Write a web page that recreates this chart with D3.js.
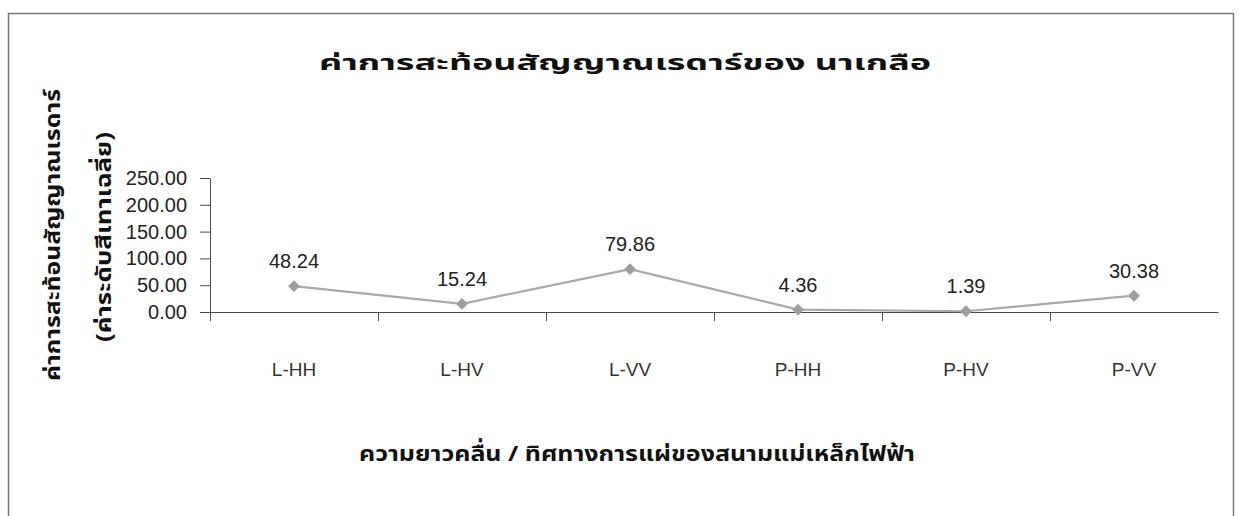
<!doctype html>
<html lang="th">
<head>
  <meta charset="utf-8">
  <title>ค่าการสะท้อนสัญญาณเรดาร์ของ นาเกลือ</title>
  <script src="https://d3js.org/d3.v7.min.js"></script>
  <style type="text/css">
    body { margin: 0; background: #fff; }
    .axis path, .axis line { stroke: #4a4a4a; stroke-width: 1; }
    .axis text { fill: #222; }
    .ytick text { font-family: 'Liberation Sans', Arial, sans-serif; font-size: 20px; }
    .xtick text { font-family: 'Liberation Sans Narrow', 'Arial Narrow', 'Liberation Sans', sans-serif; font-size: 19px; fill: #333; }
    .thai { font-family: 'Noto Sans Thai', 'Loma', 'Garuda', 'Tlwg Typo', sans-serif; font-weight: bold; fill: #111; }
  </style>
</head>
<body>
  <div id="chart"></div>
  <script type="text/javascript">

    // values
    var categories = ['L-HH', 'L-HV', 'L-VV', 'P-HH', 'P-HV', 'P-VV'];
    var values = [48.24, 15.24, 79.86, 4.36, 1.39, 30.38];
    var yTicks = [0, 50, 100, 150, 200, 250];

    var chartTitle = 'ค่าการสะท้อนสัญญาณเรดาร์ของ นาเกลือ';
    var xTitle = 'ความยาวคลื่น / ทิศทางการแผ่ของสนามแม่เหล็กไฟฟ้า';
    var yTitle1 = 'ค่าการสะท้อนสัญญาณเรดาร์';
    var yTitle2 = '(ค่าระดับสีเทาเฉลี่ย)';

    var width = 1240, height = 516;
    var plotLeft = 210, plotRight = 1218, plotTop = 178, plotBottom = 312;

    var svg = d3.select('#chart')
      .append('svg')
      .attr('width', width)
      .attr('height', height);

    // outer frame of the chart area
    svg.append('rect')
      .attr('x', 8.5).attr('y', 13.5)
      .attr('width', 1225).attr('height', 520)
      .attr('fill', '#fff')
      .attr('stroke', '#777')
      .attr('stroke-width', 1.5);

    var x = d3.scaleBand()
      .domain(categories)
      .range([plotLeft, plotRight]);

    var y = d3.scaleLinear()
      .domain([0, 250])
      .range([plotBottom, plotTop]);

    // y axis
    svg.append('g')
      .attr('class', 'axis ytick')
      .attr('transform', 'translate(' + plotLeft + ',0)')
      .call(d3.axisLeft(y)
        .tickValues(yTicks)
        .tickFormat(d3.format('.2f'))
        .tickSizeInner(10)
        .tickSizeOuter(0)
        .tickPadding(13));

    // x axis, labels at the category centres
    svg.append('g')
      .attr('class', 'axis xtick')
      .attr('transform', 'translate(0,' + plotBottom + ')')
      .call(d3.axisBottom(x)
        .tickSize(0)
        .tickPadding(51));

    // x tick marks sit between the categories
    svg.append('g')
      .selectAll('line')
      .data(categories)
      .join('line')
      .attr('x1', function(d) { return x(d) + 0.5; })
      .attr('x2', function(d) { return x(d) + 0.5; })
      .attr('y1', plotBottom)
      .attr('y2', plotBottom + 9)
      .attr('stroke', '#4a4a4a');

    var points = categories.map(function(c, i) { return {cat: c, value: values[i]}; });

    var line = d3.line()
      .x(function(d) { return x(d.cat) + x.bandwidth() / 2; })
      .y(function(d) { return y(d.value); });

    svg.append('path')
      .datum(points)
      .attr('d', line)
      .attr('fill', 'none')
      .attr('stroke', '#a8a8a8')
      .attr('stroke-width', 2.2);

    svg.append('g')
      .selectAll('path')
      .data(points)
      .join('path')
      .attr('d', d3.symbol(d3.symbolSquare, 70))
      .attr('transform', function(d) {
        return 'translate(' + (x(d.cat) + x.bandwidth() / 2) + ',' + y(d.value) + ') rotate(45)';
      })
      .attr('fill', '#9d9d9d');

    svg.append('g')
      .selectAll('text')
      .data(points)
      .join('text')
      .attr('x', function(d) { return x(d.cat) + x.bandwidth() / 2; })
      .attr('y', function(d) { return y(d.value) - 18; })
      .attr('text-anchor', 'middle')
      .style('font-family', "'Liberation Sans', Arial, sans-serif")
      .style('font-size', '20px')
      .style('fill', '#222')
      .text(function(d) { return d.value.toFixed(2); });

    // titles
    svg.append('text')
      .attr('class', 'thai')
      .attr('x', 625).attr('y', 70)
      .attr('text-anchor', 'middle')
      .attr('textLength', 612)
      .attr('lengthAdjust', 'spacingAndGlyphs')
      .style('font-size', '22px')
      .text(chartTitle);

    svg.append('text')
      .attr('class', 'thai')
      .attr('x', 637).attr('y', 461)
      .attr('text-anchor', 'middle')
      .attr('textLength', 556)
      .attr('lengthAdjust', 'spacingAndGlyphs')
      .style('font-size', '22px')
      .text(xTitle);

    svg.append('text')
      .attr('class', 'thai')
      .attr('transform', 'translate(60,235) rotate(-90)')
      .attr('text-anchor', 'middle')
      .attr('textLength', 292)
      .attr('lengthAdjust', 'spacingAndGlyphs')
      .style('font-size', '22px')
      .text(yTitle1);

    svg.append('text')
      .attr('class', 'thai')
      .attr('transform', 'translate(111,237) rotate(-90)')
      .attr('text-anchor', 'middle')
      .attr('textLength', 210)
      .attr('lengthAdjust', 'spacingAndGlyphs')
      .style('font-size', '22px')
      .text(yTitle2);

  </script>
</body>
</html>
